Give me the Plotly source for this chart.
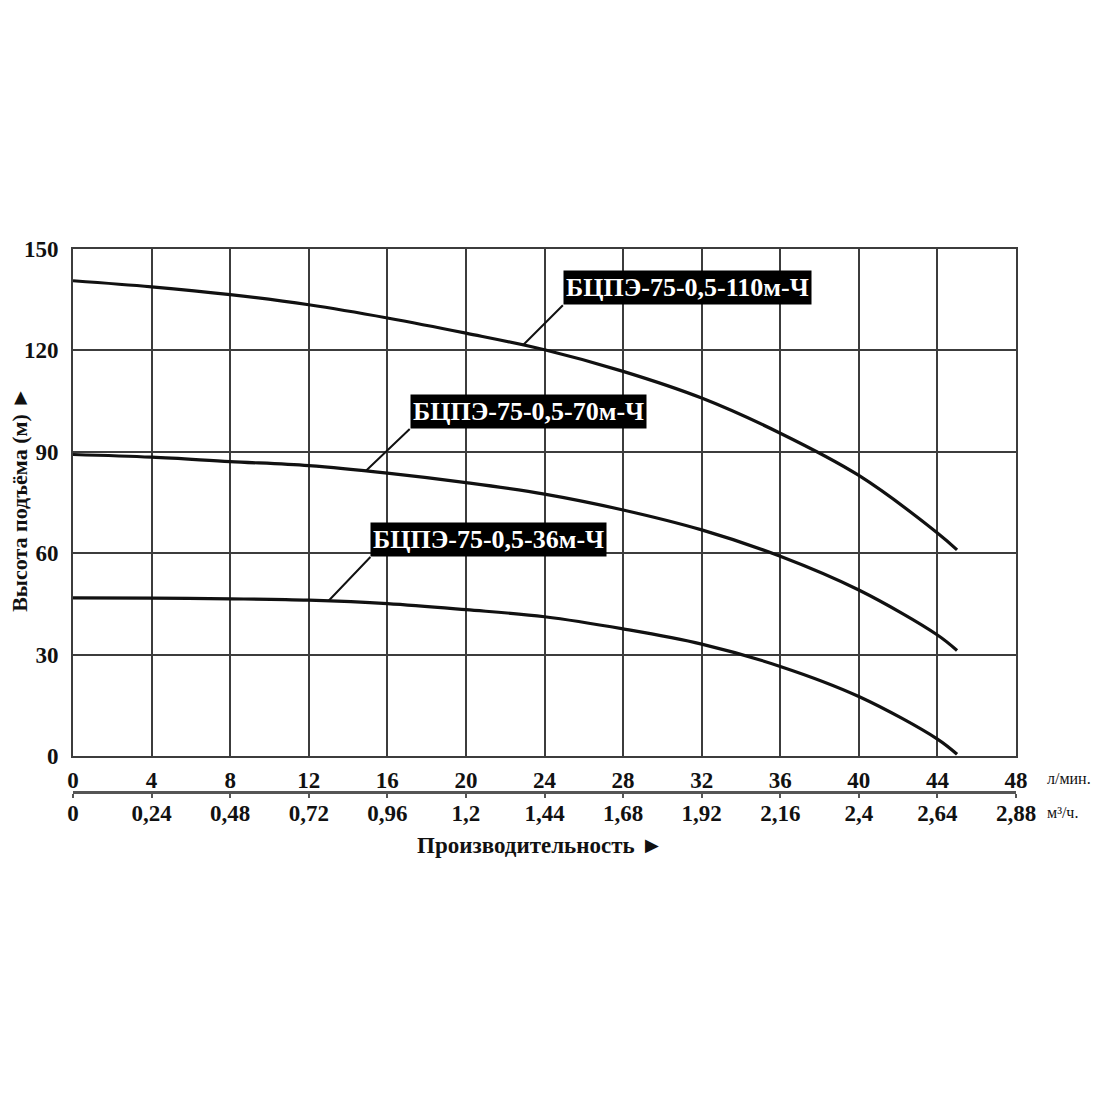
import numpy as np
import plotly.graph_objects as go

# ---- data ----
flow_lpm = [0, 4, 8, 12, 16, 20, 24, 28, 32, 36, 40, 44, 45]
head_110 = [140.6, 138.8, 136.5, 133.5, 129.6, 125.1, 120.2, 113.8, 105.9, 95.5, 83.0, 66.0, 61.0]
head_70 = [89.2, 88.4, 87.1, 85.9, 83.7, 80.9, 77.5, 72.8, 66.9, 59.1, 49.1, 35.8, 31.2]
head_36 = [46.8, 46.7, 46.5, 46.1, 45.1, 43.3, 41.2, 37.6, 33.1, 26.5, 17.6, 5.0, 0.5]

series_names = ["БЦПЭ-75-0,5-110м-Ч", "БЦПЭ-75-0,5-70м-Ч", "БЦПЭ-75-0,5-36м-Ч"]
label_at_flow = [22.9, 14.9, 13.0]

x_ticks_lpm = [0, 4, 8, 12, 16, 20, 24, 28, 32, 36, 40, 44, 48]
x_ticks_m3h = [0, 0.24, 0.48, 0.72, 0.96, 1.2, 1.44, 1.68, 1.92, 2.16, 2.4, 2.64, 2.88]
x_ticktext_m3h = ["0", "0,24", "0,48", "0,72", "0,96", "1,2", "1,44", "1,68", "1,92", "2,16", "2,4", "2,64", "2,88"]
y_ticks = [0, 30, 60, 90, 120, 150]

FONT = "Liberation Serif"
GRID = "#3c3c3c"
INK = "#111111"

fig = go.Figure()
for heads in (head_110, head_70, head_36):
    fig.add_trace(go.Scatter(
        x=flow_lpm, y=heads, mode="lines",
        line=dict(color=INK, width=3.2, shape="spline", smoothing=1.0),
        showlegend=False, hoverinfo="skip"))

# dummy trace so the second (m3/h) axis is drawn
fig.add_trace(go.Scatter(x=[x_ticks_m3h[0], x_ticks_m3h[-1]], y=[None, None],
                         xaxis="x2", mode="lines", showlegend=False, hoverinfo="skip"))

# curve labels with leader lines
offsets = [(40, -40), (44, -42), (42, -44)]
for name, fx, heads, (ax, ay) in zip(series_names, label_at_flow,
                                     (head_110, head_70, head_36), offsets):
    fy = float(np.interp(fx, flow_lpm, heads))
    fig.add_annotation(
        x=fx, y=fy, xref="x", yref="y", ax=ax, ay=ay,
        text=name, showarrow=True, arrowhead=0, arrowwidth=2, arrowcolor=INK,
        xanchor="left", yanchor="bottom",
        bgcolor="#000000", borderpad=2,
        font=dict(family=FONT, size=26, color="white", weight="bold"))

# unit labels & titles
fig.add_annotation(text="л/мин.", xref="paper", yref="paper", x=1.031, y=0.024,
                   xanchor="left", yanchor="middle", showarrow=False,
                   font=dict(family=FONT, size=16, color=INK))
fig.add_annotation(text="м³/ч.", xref="paper", yref="paper", x=1.031, y=-0.038,
                   xanchor="left", yanchor="middle", showarrow=False,
                   font=dict(family=FONT, size=16, color=INK))
fig.add_annotation(text="Производительность ►", xref="paper", yref="paper",
                   x=0.495, y=-0.098, xanchor="center", yanchor="middle", showarrow=False,
                   font=dict(family=FONT, size=23, color=INK, weight="bold"))
fig.add_annotation(text="Высота подъёма (м) ►", xref="paper", yref="paper",
                   x=-0.0562, y=0.538, xanchor="center", yanchor="middle", showarrow=False,
                   textangle=-90,
                   font=dict(family=FONT, size=22, color=INK, weight="bold"))

fig.update_layout(
    width=1100, height=1100,
    margin=dict(l=65, r=92, t=241, b=316),
    paper_bgcolor="white", plot_bgcolor="white",
    xaxis=dict(range=[0, 48], tickvals=x_ticks_lpm, ticktext=[str(v) for v in x_ticks_lpm],
               showgrid=True, gridcolor=GRID, gridwidth=1.6,
               showline=True, linecolor=GRID, linewidth=1.6, mirror=True,
               ticks="", zeroline=False, ticklabelstandoff=3,
               tickfont=dict(family=FONT, size=23, color=INK, weight="bold")),
    xaxis2=dict(range=[0, 2.88], overlaying="x", anchor="free", position=0, side="bottom",
                tickvals=x_ticks_m3h, ticktext=x_ticktext_m3h,
                showgrid=False, zeroline=False,
                showline=True, linecolor="#555555", linewidth=2.5,
                ticks="outside", ticklen=4, tickwidth=1.5, tickcolor="#555555",
                ticklabelstandoff=-4,
                tickfont=dict(family=FONT, size=23, color=INK, weight="bold")),
    yaxis=dict(domain=[0.0663, 1], range=[0, 150], tickvals=y_ticks,
               showgrid=True, gridcolor=GRID, gridwidth=1.6,
               showline=True, linecolor=GRID, linewidth=1.6, mirror=True,
               ticks="", zeroline=False, ticklabelstandoff=8,
               tickfont=dict(family=FONT, size=23, color=INK, weight="bold")),
)

fig.write_html("out.html")
